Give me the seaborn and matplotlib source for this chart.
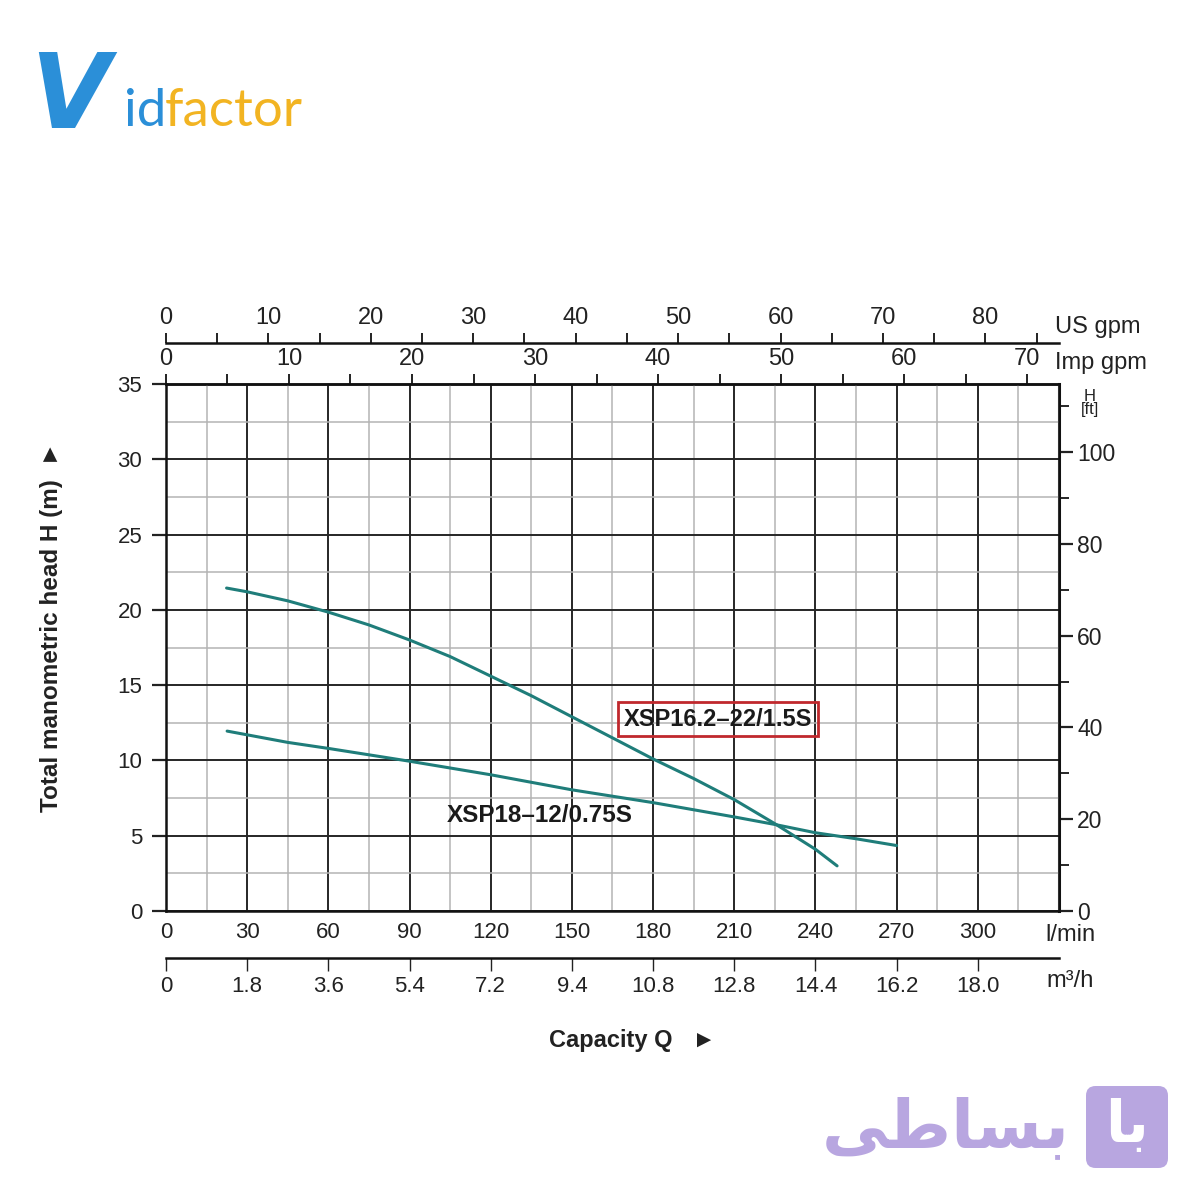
import numpy as np
import pandas as pd
import seaborn as sns
import matplotlib.pyplot as plt
from matplotlib.ticker import MultipleLocator, NullLocator
from matplotlib.patches import FancyBboxPatch

# pump curves: capacity Q in l/min, head H in m
q_16 = [22.4, 30, 45, 60, 75, 90, 105, 120, 135, 150, 165, 180, 195, 210, 225, 240, 248]
h_16 = [21.45, 21.2, 20.6, 19.85, 19.0, 18.0, 16.9, 15.6, 14.3, 12.9, 11.5, 10.1, 8.8, 7.4, 5.8, 4.1, 3.0]
q_18 = [22.6, 45, 60, 90, 120, 150, 180, 210, 225, 240, 255, 270]
h_18 = [11.95, 11.2, 10.8, 9.95, 9.05, 8.05, 7.2, 6.25, 5.75, 5.2, 4.8, 4.35]

lmin_ticks = [0, 30, 60, 90, 120, 150, 180, 210, 240, 270, 300]
m3h_ticks = [0, 1.8, 3.6, 5.4, 7.2, 9.0, 10.8, 12.6, 14.4, 16.2, 18.0]
m3h_labels = ["0", "1.8", "3.6", "5.4", "7.2", "9.4", "10.8", "12.8", "14.4", "16.2", "18.0"]
usgpm_ticks = [0, 10, 20, 30, 40, 50, 60, 70, 80]
impgpm_ticks = [0, 10, 20, 30, 40, 50, 60, 70]
hm_ticks = [0, 5, 10, 15, 20, 25, 30, 35]
hft_ticks = [0, 20, 40, 60, 80, 100]

df = pd.concat([
    pd.DataFrame({"Q": q_16, "H": h_16, "pump": "XSP16.2-22/1.5S"}),
    pd.DataFrame({"Q": q_18, "H": h_18, "pump": "XSP18-12/0.75S"}),
])

sns.set_theme(style="white")
plt.rcParams["font.family"] = ["Liberation Sans", "DejaVu Sans"]
ink = "#222222"

fig = plt.figure(figsize=(12, 12), dpi=100)
ax = fig.add_axes([0.1383, 0.2408, 0.7442, 0.4392])

teal = "#1f7d7a"
sns.lineplot(data=df, x="Q", y="H", units="pump", estimator=None, sort=False,
             color=teal, lw=2.2, ax=ax, legend=False)

ax.set_xlim(0, 330)
ax.set_ylim(0, 35)
ax.set_xlabel("")
ax.set_ylabel("")

# grid: dark every 30 l/min / 5 m, light in between
ax.xaxis.set_major_locator(MultipleLocator(30))
ax.xaxis.set_minor_locator(MultipleLocator(15))
ax.yaxis.set_major_locator(MultipleLocator(5))
ax.yaxis.set_minor_locator(MultipleLocator(2.5))
ax.grid(which="major", color="#262626", lw=1.4)
ax.grid(which="minor", color="#b4b4b4", lw=1.1)
ax.set_axisbelow(True)
for s in ax.spines.values():
    s.set_color("#111111")
    s.set_linewidth(1.8)

ax.set_xticks(lmin_ticks)
ax.set_xticklabels([str(t) for t in lmin_ticks], fontsize=16)
ax.tick_params(axis="x", which="both", length=0, pad=8, colors=ink)
ax.set_yticks(hm_ticks)
ax.set_yticklabels([str(t) for t in hm_ticks], fontsize=16)
ax.tick_params(axis="y", which="major", direction="out", length=10, width=1.6,
               pad=7, colors=ink, left=True)
ax.tick_params(axis="y", which="minor", length=0)

# m3/h axis below
sec_m3 = ax.secondary_xaxis(-0.089, functions=(lambda q: q * 0.06, lambda m: m / 0.06))
sec_m3.set_xticks(m3h_ticks)
sec_m3.set_xticklabels(m3h_labels, fontsize=16)
sec_m3.xaxis.set_minor_locator(NullLocator())
sec_m3.tick_params(direction="out", length=9, width=1.0, pad=4, colors=ink)
for s in sec_m3.spines.values():
    s.set_linewidth(1.8)
    s.set_color("#111111")

# US gpm axis on top
sec_us = ax.secondary_xaxis(1.078, functions=(lambda q: q / 3.785, lambda g: g * 3.785))
sec_us.set_xticks(usgpm_ticks)
sec_us.set_xticklabels([str(t) for t in usgpm_ticks], fontsize=17)
sec_us.xaxis.set_minor_locator(MultipleLocator(5))
sec_us.tick_params(which="both", direction="out", length=7, width=1.4, pad=3, colors=ink)
for s in sec_us.spines.values():
    s.set_linewidth(1.8)
    s.set_color("#111111")

# Imp gpm axis on top
sec_imp = ax.secondary_xaxis(1.0, functions=(lambda q: q / 4.546, lambda g: g * 4.546))
sec_imp.set_xticks(impgpm_ticks)
sec_imp.set_xticklabels([str(t) for t in impgpm_ticks], fontsize=17)
sec_imp.xaxis.set_minor_locator(MultipleLocator(5))
sec_imp.tick_params(which="both", direction="out", length=7, width=1.4, pad=3, colors=ink)
for s in sec_imp.spines.values():
    s.set_linewidth(1.8)
    s.set_color("#111111")

# H in ft on the right
sec_ft = ax.secondary_yaxis("right", functions=(lambda h: h / 0.3048, lambda f: f * 0.3048))
sec_ft.set_yticks(hft_ticks)
sec_ft.set_yticklabels([str(t) for t in hft_ticks], fontsize=16.5)
sec_ft.yaxis.set_minor_locator(MultipleLocator(10))
sec_ft.tick_params(which="major", direction="out", length=10, width=1.6, pad=3, colors=ink)
sec_ft.tick_params(which="minor", direction="out", length=7, width=1.4)
for s in sec_ft.spines.values():
    s.set_linewidth(2.2)
    s.set_color("#111111")

# unit labels
fig.text(1055 / 1200, 1 - 327 / 1200, "US gpm", fontsize=17, va="center", ha="left", color=ink)
fig.text(1055 / 1200, 1 - 363 / 1200, "Imp gpm", fontsize=17, va="center", ha="left", color=ink)
fig.text(1090 / 1200, 1 - 403 / 1200, "H\n[ft]", fontsize=12, va="center", ha="center",
         color=ink, linespacing=0.85)
fig.text(1045 / 1200, 1 - 935 / 1200, "l/min", fontsize=17, va="center", ha="left", color=ink)
fig.text(1046 / 1200, 1 - 981 / 1200, "m\u00b3/h", fontsize=17, va="center", ha="left", color=ink)

fig.text(52 / 1200, 1 - 627 / 1200, "Total manometric head H (m)  \u25ba", rotation=90,
         fontsize=17.5, fontweight="bold", va="center", ha="center", color=ink)
fig.text(632 / 1200, 1 - 1041 / 1200, "Capacity Q   \u25ba", fontsize=17, fontweight="bold",
         va="center", ha="center", color=ink)

# curve labels
ax.text(204, 12.75, "XSP16.2\u201322/1.5S", fontsize=17, fontweight="bold", ha="center",
        va="center", color="#1a1a1a",
        bbox=dict(boxstyle="square,pad=0.25", fc="none", ec="#c0282d", lw=2))
ax.text(138, 6.37, "XSP18\u201312/0.75S", fontsize=17.5, fontweight="bold", ha="center",
        va="center", color="#1a1a1a")

# Vidfactor logo
fig.text(30 / 1200, 1 - 128 / 1200, "V", fontsize=74, fontweight="bold", color="#2b8fd8",
         family="DejaVu Sans", ha="left", va="baseline", style="italic")
fig.text(124 / 1200, 1 - 126 / 1200, "id", fontsize=38, color="#2b8fd8", family="Lato",
         ha="left", va="baseline")
fig.text(165 / 1200, 1 - 126 / 1200, "factor", fontsize=38, color="#f2b422", family="Lato",
         ha="left", va="baseline")

# watermark logo
box = FancyBboxPatch((1086 / 1200, 1 - 1168 / 1200), 82 / 1200, 82 / 1200,
                     boxstyle="round,pad=0,rounding_size=0.008", transform=fig.transFigure,
                     fc="#b8a6e0", ec="none")
fig.patches.append(box)
fig.text(1127 / 1200, 1 - 1125 / 1200, "\ufe8e\ufe91", fontsize=42, color="white",
         fontweight="bold", family="DejaVu Sans", ha="center", va="center")
fig.text(1070 / 1200, 1 - 1128 / 1200, "\ufbfd\ufec3\ufe8e\ufeb4\ufe91", fontsize=48,
         color="#b8a6e0", fontweight="bold", family="DejaVu Sans", ha="right", va="center")

fig.savefig("out.png", dpi=100, facecolor="white")
